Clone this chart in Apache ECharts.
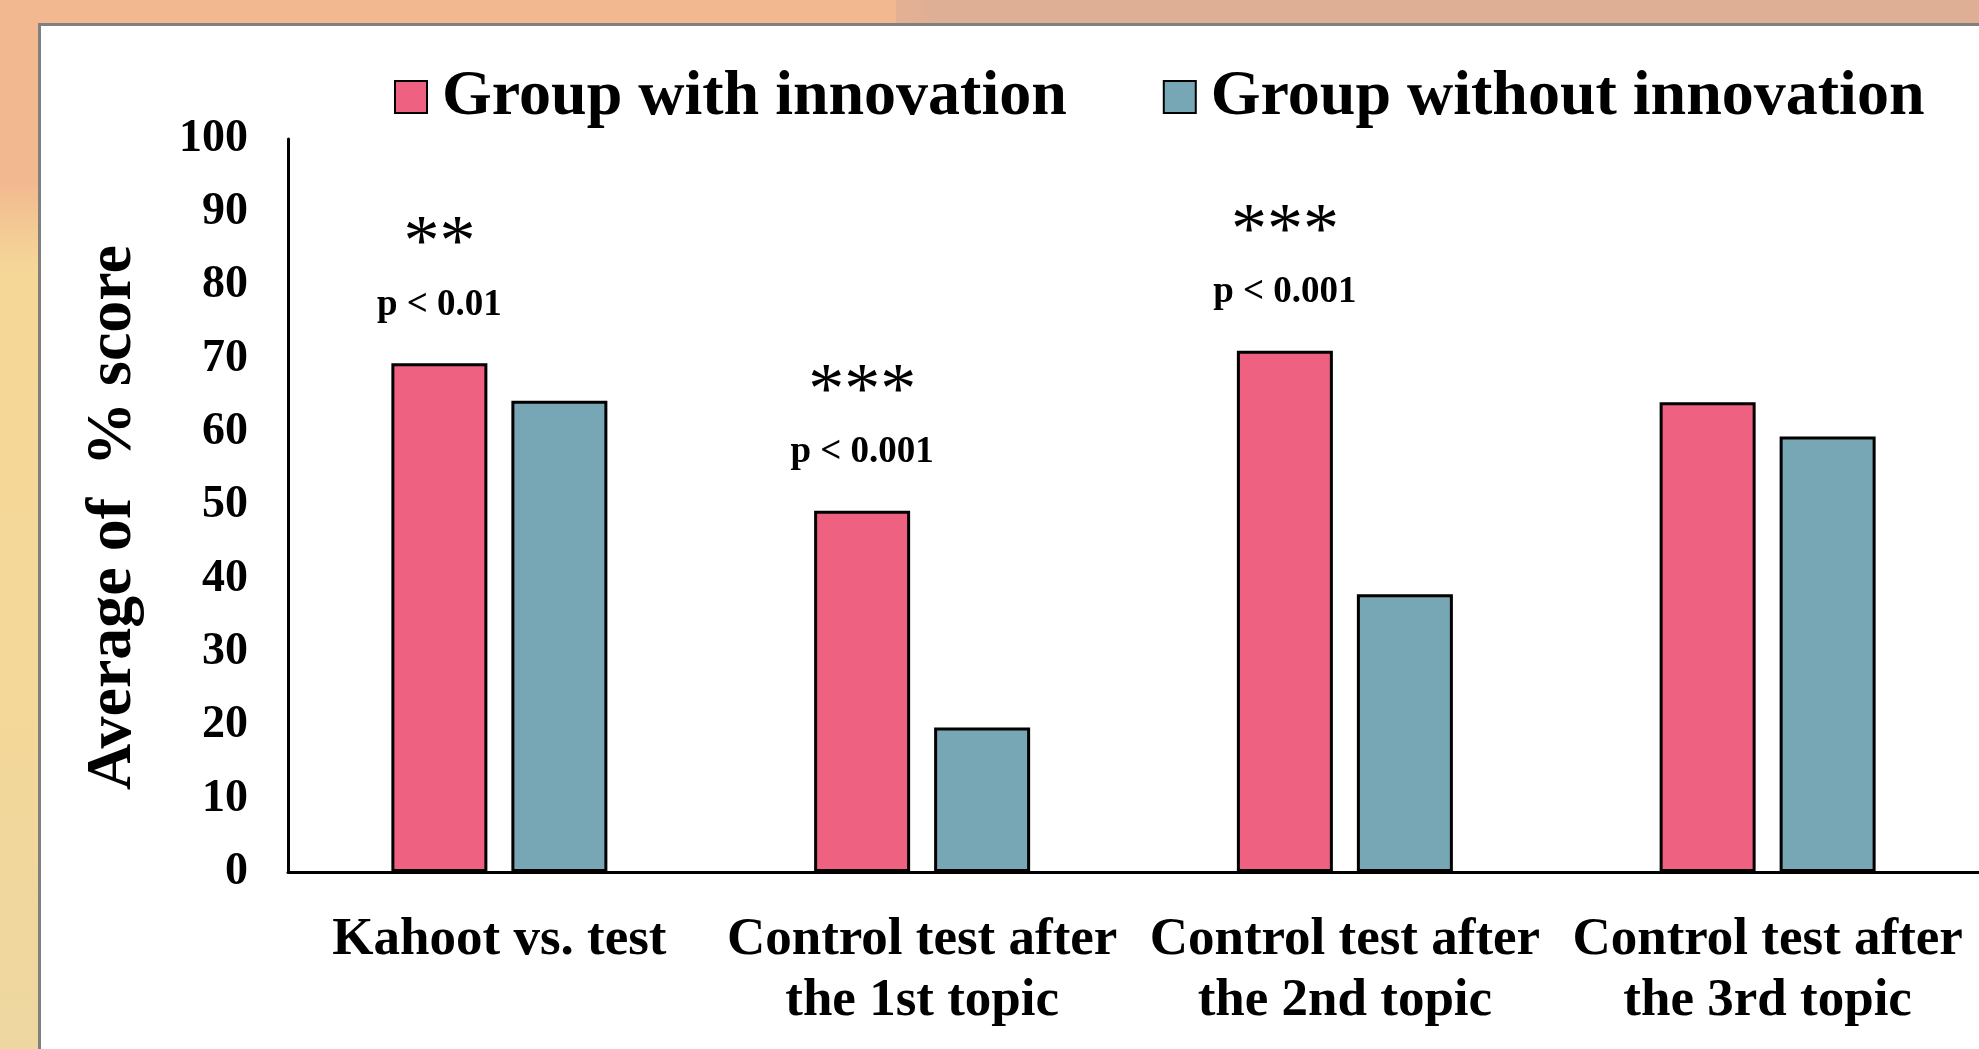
<!DOCTYPE html>
<html>
<head>
<meta charset="utf-8">
<script src="https://cdn.jsdelivr.net/npm/echarts@6/dist/echarts.min.js"></script>
<style>
  html, body { margin: 0; padding: 0; width: 1979px; height: 1049px; overflow: hidden; background: #F2B890; }
  #topRight { position: absolute; left: 896px; top: 0; width: 1083px; height: 26px; background: linear-gradient(to right, #E4B093, #DEAF95 40px); }
  #leftLow { position: absolute; left: 0; top: 180px; width: 40px; height: 869px; background: linear-gradient(#F2B890, #F5D898 90px, #F4D899 60%, #EDD6A0); }
  #panel { position: absolute; left: 38px; top: 23px; right: 0; bottom: 0; background: #fff; border-left: 3px solid #808080; border-top: 3px solid #808080; }
  #chart { position: absolute; left: 0; top: 0; width: 1979px; height: 1049px; }
</style>
</head>
<body>
<div id="topRight"></div>
<div id="leftLow"></div>
<div id="panel"></div>
<div id="chart"></div>
<script>
// data
var categories = ['Kahoot vs. test', 'Control test after\nthe 1st topic', 'Control test after\nthe 2nd topic', 'Control test after\nthe 3rd topic'];
var withInnovation = [69.4, 49.3, 71.1, 64.1];
var withoutInnovation = [64.3, 19.7, 37.9, 59.4];
var stars = ['**', '***', '***', ''];
var pValues = ['p < 0.01', 'p < 0.001', 'p < 0.001', ''];

var serif = '"Liberation Serif", "Times New Roman", serif';

var chart = echarts.init(document.getElementById('chart'), null, { renderer: 'canvas' });

var option = {
  backgroundColor: 'transparent',
  animation: false,
  legend: {
    left: 389,
    top: 60,
    itemWidth: 32,
    itemHeight: 32,
    itemGap: 96,
    icon: 'rect',
    textStyle: { fontFamily: serif, fontWeight: 'bold', fontSize: 64, color: '#000', padding: [0, 0, 0, 10] },
    data: ['Group with innovation', 'Group without innovation']
  },
  grid: { left: 288, right: 0, top: 139, bottom: 177, containLabel: false },
  xAxis: {
    type: 'category',
    data: categories,
    axisLine: { lineStyle: { color: '#000', width: 3 } },
    axisTick: { show: false },
    axisLabel: { fontFamily: serif, fontWeight: 'bold', fontSize: 53, color: '#000', lineHeight: 61, margin: 38, interval: 0 }
  },
  yAxis: {
    type: 'value',
    min: 0,
    max: 100,
    interval: 10,
    name: 'Average of  % score',
    nameLocation: 'middle',
    nameRotate: 90,
    nameGap: 143,
    nameTextStyle: { fontFamily: serif, fontWeight: 'bold', fontSize: 64, color: '#000', padding: [0, 24, 0, 0] },
    axisLine: { show: true, lineStyle: { color: '#000', width: 3 } },
    axisTick: { show: false },
    splitLine: { show: false },
    axisLabel: { fontFamily: serif, fontWeight: 'bold', fontSize: 46, color: '#000', margin: 40 }
  },
  series: [
    {
      name: 'Group with innovation',
      type: 'bar',
      data: withInnovation,
      barWidth: 96,
      barGap: '25%',
      itemStyle: { color: '#EE6180', borderColor: '#000', borderWidth: 3 },
      label: {
        show: true,
        position: 'top',
        distance: 38,
        formatter: function (p) {
          if (!stars[p.dataIndex]) return '';
          return '{s|' + stars[p.dataIndex] + '}\n{p|' + pValues[p.dataIndex] + '}';
        },
        rich: {
          s: { fontFamily: serif, fontSize: 72, lineHeight: 80, color: '#000', align: 'center' },
          p: { fontFamily: serif, fontWeight: 'bold', fontSize: 37, lineHeight: 40, color: '#000', align: 'center' }
        }
      }
    },
    {
      name: 'Group without innovation',
      type: 'bar',
      data: withoutInnovation,
      barWidth: 96,
      itemStyle: { color: '#77A6B5', borderColor: '#000', borderWidth: 3 }
    }
  ]
};

chart.setOption(option);
</script>
</body>
</html>
